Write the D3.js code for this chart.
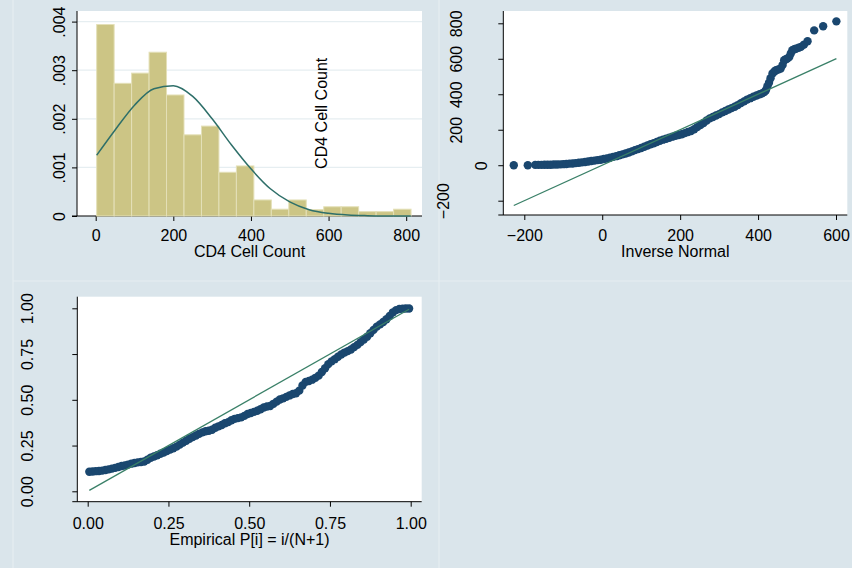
<!DOCTYPE html>
<html>
<head>
<meta charset="utf-8">
<script src="https://cdn.jsdelivr.net/npm/d3@7"></script>
<style>
  body { margin: 0; background: #dae5eb; }
  text { font-family: "Liberation Sans", Arial, sans-serif; font-size: 16px; fill: #000; }
</style>
</head>
<body>
<svg id="chart" width="852" height="568"></svg>
<script>
// ---- data ----
// histogram of CD4 cell count (density scale)
var binStart = 2.5, binWidth = 45;
var histDensity = [0.00394, 0.00273, 0.00294, 0.00337, 0.00249, 0.00167, 0.00185, 0.00090, 0.00103,
                   0.00033, 0.00014, 0.00033, 0.00013, 0.00019, 0.00019, 0.00009, 0.00009, 0.00014];
// overlaid normal density
var curveX = [2.5, 50, 100, 150, 200, 250, 300, 350, 400, 450, 500, 550, 600, 650, 700, 750, 812];
var curveY = [0.00125, 0.00177, 0.00228, 0.00262, 0.00268, 0.00246, 0.00200, 0.00146, 0.00097,
              0.00056, 0.00029, 0.00013, 0.000055, 0.00002, 0.000007, 0.000002, 0.0000003];
var histXTicks = [0, 200, 400, 600, 800];
var histYTicks = [0, 0.001, 0.002, 0.003, 0.004];

// quantile-normal plot: inverse normal vs CD4 cell count
var qnormX = [-227, -191, -172, -164, -156, -148, -140, -132, -124, -116, -108, -100, -92, -84, -76, -68,
              -60, -52, -44, -36, -28, -20, -12, -4, 4, 12, 20, 28, 36, 44, 52, 60, 68, 76, 84, 92, 100,
              108, 116, 124, 132, 140, 148, 156, 164, 172, 180, 188, 196, 204, 212, 220, 228, 236, 244,
              252, 260, 268, 276, 284, 292, 300, 308, 316, 324, 332, 340, 348, 356, 364, 372, 380, 388,
              396, 404, 410, 416, 420, 424, 428, 432, 437, 442, 446, 452, 458, 463, 467, 471, 475, 480,
              484, 488, 493, 497, 504, 510, 518, 527, 544, 567, 601];
var qnormY = [0, 0, 2, 2, 2, 3, 3, 3, 4, 4, 5, 6, 7, 9, 10, 12,
              14, 16, 18, 21, 24, 26, 29, 31, 35, 38, 42, 47, 51, 56, 61, 66, 72, 78, 85, 91, 97,
              104, 111, 118, 124, 131, 138, 144, 149, 155, 161, 166, 170, 175, 181, 187, 193, 203, 215,
              226, 238, 252, 264, 272, 280, 288, 298, 306, 314, 322, 330, 339, 350, 360, 370, 378, 386,
              393, 400, 405, 412, 423, 445, 465, 490, 517, 528, 535, 540, 545, 565, 592, 597, 601, 610,
              630, 648, 654, 657, 662, 667, 680, 699, 760, 783, 811];
var qnormXTicks = [-200, 0, 200, 400, 600];
var qnormYTicks = [-200, 0, 200, 400, 600, 800];

// standardized normal probability plot
var pnormP = [0.005, 0.015, 0.025, 0.035, 0.045, 0.055, 0.065, 0.075, 0.085, 0.095,
              0.105, 0.115, 0.125, 0.135, 0.145, 0.155, 0.165, 0.175, 0.185, 0.195,
              0.205, 0.215, 0.225, 0.235, 0.245, 0.255, 0.265, 0.275, 0.285, 0.295,
              0.305, 0.315, 0.325, 0.335, 0.345, 0.355, 0.365, 0.375, 0.385, 0.395,
              0.405, 0.415, 0.425, 0.435, 0.445, 0.455, 0.465, 0.475, 0.485, 0.495,
              0.505, 0.515, 0.525, 0.535, 0.545, 0.555, 0.565, 0.575, 0.585, 0.595,
              0.605, 0.615, 0.625, 0.635, 0.645, 0.655, 0.665, 0.675, 0.685, 0.695,
              0.705, 0.715, 0.725, 0.735, 0.745, 0.755, 0.765, 0.775, 0.785, 0.795,
              0.805, 0.815, 0.825, 0.835, 0.845, 0.855, 0.865, 0.875, 0.885, 0.895,
              0.905, 0.915, 0.925, 0.935, 0.945, 0.955, 0.965, 0.975, 0.985, 0.995];
var pnormF = [0.107, 0.108, 0.110, 0.111, 0.113, 0.116, 0.120, 0.124, 0.128, 0.133,
              0.138, 0.141, 0.146, 0.151, 0.155, 0.158, 0.160, 0.163, 0.172, 0.183,
              0.190, 0.197, 0.205, 0.212, 0.220, 0.228, 0.235, 0.244, 0.255, 0.266,
              0.276, 0.287, 0.296, 0.305, 0.314, 0.322, 0.328, 0.331, 0.336, 0.347,
              0.355, 0.362, 0.372, 0.378, 0.388, 0.396, 0.400, 0.404, 0.412, 0.422,
              0.428, 0.434, 0.440, 0.448, 0.458, 0.463, 0.466, 0.478, 0.490, 0.502,
              0.508, 0.516, 0.524, 0.532, 0.536, 0.550, 0.578, 0.598, 0.603, 0.610,
              0.620, 0.632, 0.652, 0.672, 0.695, 0.710, 0.722, 0.735, 0.748, 0.758,
              0.766, 0.775, 0.788, 0.800, 0.815, 0.830, 0.845, 0.864, 0.882, 0.900,
              0.912, 0.925, 0.940, 0.958, 0.978, 0.990, 0.996, 0.998, 0.999, 0.999];
var pnormTicks = [0, 0.25, 0.5, 0.75, 1];

// ---- colours ----
var navy = "#1a476f", teal = "#3a8068", curveCol = "#2e6f69";
var barFill = "#ccc585", barLine = "#e4e0b8";

var svg = d3.select("#chart");

// faint borders of the combined sub-graph regions
svg.append("line").attr("x1", 13).attr("x2", 13).attr("y1", 0).attr("y2", 568)
  .attr("stroke", "#e6edf1").attr("stroke-width", 1.2);
svg.append("line").attr("x1", 439).attr("x2", 439).attr("y1", 0).attr("y2", 568)
  .attr("stroke", "#e6edf1").attr("stroke-width", 1.2);
svg.append("line").attr("x1", 13).attr("x2", 852).attr("y1", 281).attr("y2", 281)
  .attr("stroke", "#e6edf1").attr("stroke-width", 1.2);

// draw a plot region with left/bottom axes; p holds the box and the axis settings
function panel(p) {
  var g = svg.append("g");
  g.append("rect").attr("x", p.left).attr("y", p.top)
    .attr("width", p.right - p.left).attr("height", p.bottom - p.top).attr("fill", "#fff");

  if (p.grid) {
    g.selectAll(".grid").data(p.yTicks.filter(d => d !== 0)).enter().append("line")
      .attr("x1", p.left).attr("x2", p.right)
      .attr("y1", d => p.y(d)).attr("y2", d => p.y(d))
      .attr("stroke", "#e6eef1").attr("stroke-width", 1.3);
  }

  var xa = g.append("g").attr("transform", "translate(0," + p.bottom + ")")
    .call(d3.axisBottom(p.x).tickValues(p.xTicks).tickFormat(p.xFormat)
      .tickSize(5).tickSizeOuter(0).tickPadding(p.xPad));
  xa.select(".domain").remove();
  xa.selectAll("line").attr("stroke", "#000");
  xa.selectAll("text").style("font-size", "16px");

  var ya = g.append("g").attr("transform", "translate(" + p.left + ",0)")
    .call(d3.axisLeft(p.y).tickValues(p.yTicks).tickFormat(p.yFormat).tickSize(5).tickSizeOuter(0));
  ya.select(".domain").remove();
  ya.selectAll("line").attr("stroke", "#000");
  ya.selectAll("text").style("font-size", "16px")
    .attr("transform", "rotate(-90)")
    .attr("text-anchor", "middle")
    .attr("x", 0).attr("dy", 0)
    .attr("y", function() {
      var len = this.getComputedTextLength();
      return p.yOff - (p.lenShift || 0) * len;
    });

  g.append("line").attr("x1", p.left - 5).attr("x2", p.right)
    .attr("y1", p.bottom).attr("y2", p.bottom).attr("stroke", "#000");
  g.append("line").attr("x1", p.left).attr("x2", p.left)
    .attr("y1", p.top).attr("y2", p.bottom).attr("stroke", "#000");

  g.append("text").attr("x", (p.left + p.right) / 2).attr("y", p.titleY)
    .attr("text-anchor", "middle").text(p.title);
  return g;
}

// ---- panel 1: histogram ----
var x1 = d3.scaleLinear().domain([0, 800]).range([95.7, 406.2]);
var y1 = d3.scaleLinear().domain([0, 0.004]).range([216, 21.6]);
var stripZero = d3.format(".3f");
var g1 = panel({
  left: 77, right: 422, top: 11, bottom: 216, x: x1, y: y1, grid: true,
  xTicks: histXTicks, yTicks: histYTicks, xFormat: d3.format("d"),
  yFormat: d => d === 0 ? "0" : stripZero(d).replace(/^0\./, "."),
  xPad: 8.4, yOff: -11.8, titleY: 257, title: "CD4 Cell Count"
});
g1.selectAll(".bar").data(histDensity).enter().append("rect")
  .attr("x", (d, i) => x1(binStart + i * binWidth))
  .attr("width", x1(binWidth) - x1(0))
  .attr("y", d => y1(d))
  .attr("height", d => y1(0) - y1(d))
  .attr("fill", barFill).attr("stroke", barLine).attr("stroke-width", 1);
g1.append("path")
  .datum(d3.zip(curveX, curveY))
  .attr("fill", "none").attr("stroke", curveCol).attr("stroke-width", 1.5)
  .attr("d", d3.line().x(d => x1(d[0])).y(d => y1(d[1])).curve(d3.curveMonotoneX));
g1.append("text")
  .attr("transform", "translate(327.4,113.3) rotate(-90)")
  .attr("text-anchor", "middle").text("CD4 Cell Count");

// ---- panel 2: qnorm ----
var x2 = d3.scaleLinear().domain([-200, 600]).range([524.3, 836]);
var y2 = d3.scaleLinear().domain([-200, 800]).range([200.7, 23.3]);
var g2 = panel({
  left: 503.3, right: 847.3, top: 11, bottom: 215, x: x2, y: y2,
  xTicks: qnormXTicks, yTicks: qnormYTicks, xFormat: d3.format("d"), yFormat: d3.format("d"),
  xPad: 9.4, yOff: -3.7, lenShift: 1.4, titleY: 257, title: "Inverse Normal"
});
g2.selectAll(".dot").data(d3.zip(qnormX, qnormY)).enter().append("circle")
  .attr("cx", d => x2(d[0])).attr("cy", d => y2(d[1])).attr("r", 4.2)
  .attr("fill", navy);
// reference line y = x over the range of the inverse-normal quantiles
var qFirst = qnormX[0], qLast = qnormX[qnormX.length - 1];
g2.append("line")
  .attr("x1", x2(qFirst)).attr("y1", y2(qFirst))
  .attr("x2", x2(qLast)).attr("y2", y2(qLast))
  .attr("stroke", teal).attr("stroke-width", 1.3);

// ---- panel 3: pnorm ----
var x3 = d3.scaleLinear().domain([0, 1]).range([87.7, 410.7]);
var y3 = d3.scaleLinear().domain([0, 1]).range([491.3, 308.3]);
var g3 = panel({
  left: 77.3, right: 421.7, top: 296.7, bottom: 501.7, x: x3, y: y3,
  xTicks: pnormTicks, yTicks: pnormTicks, xFormat: d3.format(".2f"), yFormat: d3.format(".2f"),
  xPad: 11.4, yOff: -44, titleY: 545, title: "Empirical P[i] = i/(N+1)"
});
g3.selectAll(".dot").data(d3.zip(pnormP, pnormF)).enter().append("circle")
  .attr("cx", d => x3(d[0])).attr("cy", d => y3(d[1])).attr("r", 4.2)
  .attr("fill", navy);
var pFirst = pnormP[0], pLast = pnormP[pnormP.length - 1];
g3.append("line")
  .attr("x1", x3(pFirst)).attr("y1", y3(pFirst))
  .attr("x2", x3(pLast)).attr("y2", y3(pLast))
  .attr("stroke", teal).attr("stroke-width", 1.3);
</script>
</body>
</html>
